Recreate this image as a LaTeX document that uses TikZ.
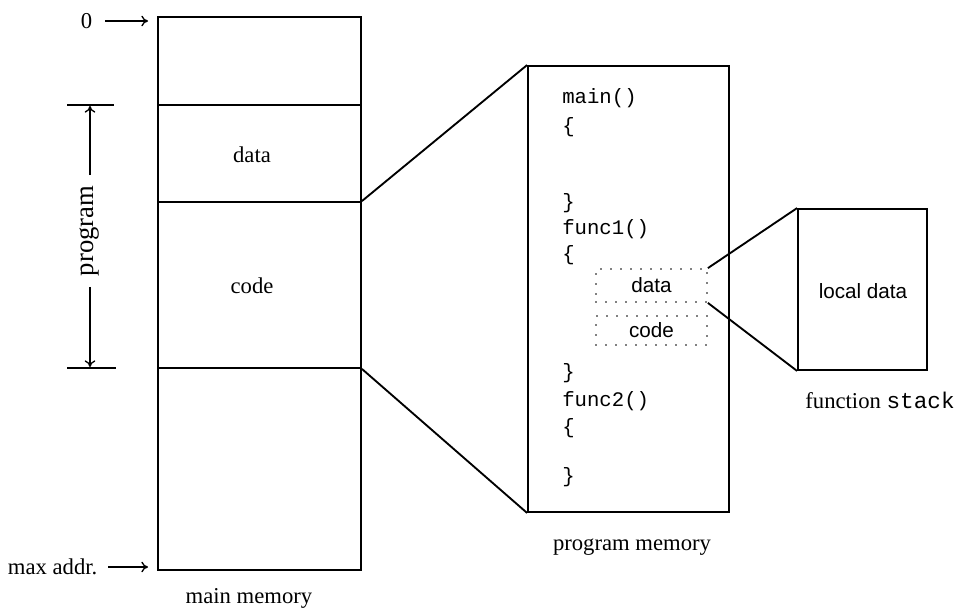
\documentclass[tikz,border=0pt]{standalone}
\usepackage{fontspec}
\setmainfont{Liberation Serif}
\setsansfont{Liberation Sans}
\setmonofont{Liberation Mono}
\usetikzlibrary{fit,arrows.meta}
\begin{document}
\begin{tikzpicture}[x=0.75pt,y=-0.75pt,
  box/.style={draw,line width=1.4pt,inner sep=0pt},
  dotbox/.style={draw,line width=1.3pt,line cap=round,dash pattern=on 0pt off 7.5pt,inner sep=0pt},
  link/.style={line width=1.4pt},
  pointer/.style={line width=1pt,-{To[length=5pt,width=8pt]}},
  serif/.style={font=\fontsize{17}{20}\selectfont},
  sans/.style={font=\sffamily\fontsize{15.5}{18}\selectfont},
  code/.style={font=\ttfamily\fontsize{15.5}{18}\selectfont,anchor=west,inner sep=0pt}]
\useasboundingbox (0,0) rectangle (960,610);

% main memory column
\node[box,fit={(158,17)(361,105)}] (mtop) {};
\node[box,fit={(158,105)(361,202)}] (mdata) {};
\node[box,fit={(158,202)(361,368)}] (mcode) {};
\node[box,fit={(158,368)(361,570)}] (mrest) {};
\node[serif] (ldata) at (252,155) {data};
\node[serif] (lcode) at (252,286) {code};
\node[serif] (lmain) at (249,598) {main memory};

% address markers
\node[serif,anchor=east] (zero) at (97,21) {0};
\coordinate (zeroend) at (148,21);
\draw[pointer] (zero.east) ++(8,0) -- (zeroend);
\node[serif,anchor=east] (maxa) at (102,567) {max addr.};
\coordinate (maxend) at (148,567);
\draw[pointer] (maxa.east) ++(6,0) -- (maxend);

% program extent bracket
\coordinate (ptl) at (67,105);
\coordinate (ptr) at (114,105);
\coordinate (pbl) at (67,368);
\coordinate (pbr) at (116,368);
\draw[line width=1pt] (ptl) -- (ptr);
\draw[line width=1pt] (pbl) -- (pbr);
\node[serif,rotate=90,font=\fontsize{20}{24}\selectfont] (prog) at (90,231) {program};
\coordinate (pup) at (90,106);
\coordinate (pdown) at (90,367);
\draw[pointer] (prog.east) ++(0,-6) -- (pup);
\draw[pointer] (prog.west) ++(0,6) -- (pdown);

% program memory
\node[box,fit={(528,66)(729,512)}] (pm) {};
\draw[link] (mcode.north east) -- (pm.north west);
\draw[link] (mcode.south east) -- (pm.south west);
\node[code] (c1) at (562,98) {main()};
\node[code] (c2) at (562,127) {\{};
\node[code] (c3) at (562,203) {\}};
\node[code] (c4) at (562,229) {func1()};
\node[code] (c5) at (562,255) {\{};
\node[dotbox,fit={(596,269)(707,302)}] (fdata) {};
\node[sans] at (fdata.center) {data};
\node[dotbox,fit={(596,316)(707,345)}] (fcode) {};
\node[sans] at (fcode.center) {code};
\node[code] (c6) at (562,373) {\}};
\node[code] (c7) at (562,401) {func2()};
\node[code] (c8) at (562,428) {\{};
\node[code] (c9) at (562,477) {\}};
\node[serif] (lpm) at (632,547) {program memory};

% function stack
\node[box,fit={(798,209)(927,370)}] (fs) {};
\node[sans] (lloc) at (863,291) {local data};
\draw[link] (fdata.north east) -- (fs.north west);
\draw[link] (fdata.south east) -- (fs.south west);
\node[serif] (lfs) at (880,400) {function \texttt{stack}};
\end{tikzpicture}
\end{document}
